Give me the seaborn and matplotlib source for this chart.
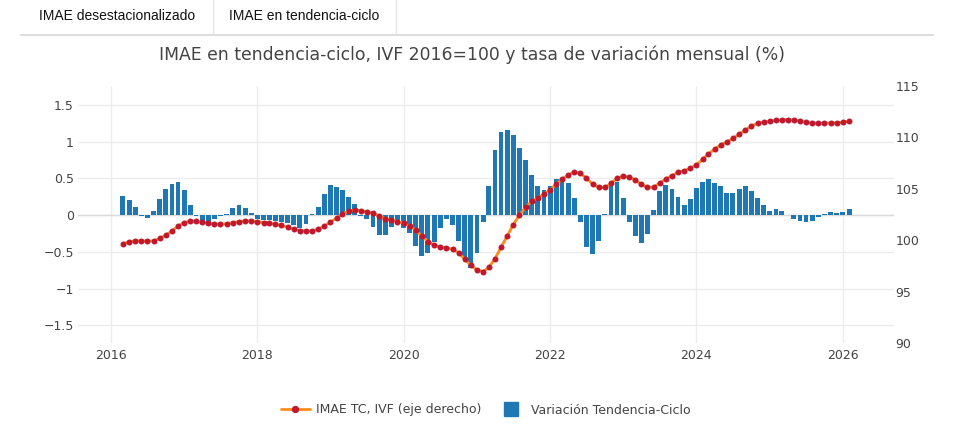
import numpy as np
import pandas as pd
import matplotlib
matplotlib.use("Agg")
import matplotlib.pyplot as plt
import matplotlib.dates as mdates
from matplotlib.lines import Line2D
import seaborn as sns
from datetime import datetime

# ---------------- data ----------------
start_month = "2016-03"
n_months = 120
months = pd.date_range(start_month, periods=n_months, freq="MS")

variacion_tc = [
    0.26, 0.21, 0.11, -0.01, -0.035, 0.06, 0.22, 0.35, 0.42, 0.45,          # 2016-03..2016-12
    0.34, 0.14, -0.02, -0.08, -0.09, -0.06, -0.02, 0.02, 0.09, 0.13, 0.10, 0.03,   # 2017
    -0.06, -0.065, -0.07, -0.085, -0.095, -0.11, -0.14, -0.18, -0.12, 0.02, 0.11, 0.29,  # 2018
    0.41, 0.38, 0.34, 0.24, 0.15, -0.01, -0.06, -0.16, -0.27, -0.27, -0.16, -0.09,     # 2019
    -0.17, -0.25, -0.42, -0.56, -0.52, -0.37, -0.17, -0.05, -0.14, -0.35, -0.59, -0.72,  # 2020
    -0.52, -0.10, 0.39, 0.89, 1.13, 1.15, 1.09, 0.91, 0.75, 0.55, 0.39, 0.34,        # 2021
    0.39, 0.49, 0.51, 0.44, 0.23, -0.10, -0.44, -0.53, -0.36, 0.02, 0.39, 0.45,       # 2022
    0.23, -0.10, -0.29, -0.38, -0.26, 0.07, 0.32, 0.41, 0.35, 0.24, 0.13, 0.22,       # 2023
    0.37, 0.45, 0.49, 0.44, 0.39, 0.30, 0.30, 0.36, 0.39, 0.32, 0.23, 0.13,           # 2024
    0.06, 0.08, 0.06, 0.0, -0.05, -0.08, -0.095, -0.08, -0.03, 0.02, 0.045, 0.03,     # 2025
    0.035, 0.08,                                                                      # 2026
]

imae_tc = [
    99.65, 99.85, 99.93, 99.93, 99.90, 99.93, 100.17, 100.49, 100.90, 101.38,
    101.72, 101.86, 101.83, 101.75, 101.65, 101.57, 101.54, 101.60, 101.71, 101.81, 101.87, 101.87,
    101.80, 101.72, 101.66, 101.55, 101.43, 101.27, 101.10, 100.94, 100.87, 100.90, 101.06, 101.38,
    101.76, 102.17, 102.55, 102.82, 102.92, 102.88, 102.76, 102.64, 102.34, 102.10, 101.99, 101.80,
    101.66, 101.40, 100.98, 100.39, 99.87, 99.52, 99.33, 99.26, 99.12, 98.77, 98.16, 97.55,
    97.10, 96.95, 97.37, 98.20, 99.31, 100.42, 101.52, 102.44, 103.22, 103.80, 104.10, 104.50,
    104.90, 105.45, 105.93, 106.35, 106.63, 106.50, 106.03, 105.45, 105.13, 105.13, 105.54, 106.03,
    106.25, 106.10, 105.87, 105.42, 105.13, 105.16, 105.55, 105.97, 106.29, 106.61, 106.77, 107.00,
    107.32, 107.87, 108.39, 108.87, 109.26, 109.58, 109.90, 110.31, 110.72, 111.10, 111.38, 111.49,
    111.59, 111.65, 111.72, 111.73, 111.68, 111.60, 111.48, 111.40, 111.36, 111.37, 111.39, 111.43,
    111.47, 111.60,
]

left_ticks = [-1.5, -1, -0.5, 0, 0.5, 1, 1.5]
left_tick_labels = ["\u22121.5", "\u22121", "\u22120.5", "0", "0.5", "1", "1.5"]
right_ticks = [90, 95, 100, 105, 110, 115]
year_ticks = [2016, 2018, 2020, 2022, 2024, 2026]

title = "IMAE en tendencia-ciclo, IVF 2016=100 y tasa de variación mensual (%)"
tab_labels = ["IMAE desestacionalizado", "IMAE en tendencia-ciclo"]
line_label = "IMAE TC, IVF (eje derecho)"
bar_label = "Variación Tendencia-Ciclo"

# ---------------- style ----------------
BLUE = "#1f77b4"
ORANGE = "#ff8c1a"
RED = "#c0182f"
TXT = "#444444"
GRID = "#ececec"
MS = 4.3

sns.set_theme(style="white")
plt.rcParams["font.family"] = ["DejaVu Sans"]

W, H = 958, 438
fig = plt.figure(figsize=(W / 100, H / 100), dpi=100)
L, R, T, B = 78, 894, 86, 343
ax = fig.add_axes([L / W, 1 - B / H, (R - L) / W, (B - T) / H])

df = pd.DataFrame({
    "x": mdates.date2num(months.to_pydatetime()),
    "variacion": variacion_tc,
    "imae": imae_tc,
})

sns.barplot(data=df, x="x", y="variacion", native_scale=True, color=BLUE,
            saturation=1, width=0.86, errorbar=None, linewidth=0, ax=ax, zorder=2)

ax2 = ax.twinx()
sns.lineplot(data=df, x="x", y="imae", ax=ax2, color=ORANGE, linewidth=2,
             marker="o", markersize=MS, markerfacecolor=RED, markeredgecolor=RED,
             markeredgewidth=0, legend=False, zorder=3)

# axes limits / ticks
x0 = mdates.date2num(datetime(2015, 7, 21))
x1 = mdates.date2num(datetime(2026, 9, 13))
ax.set_xlim(x0, x1)
ax.set_ylim(-1.741, 1.755)
ax2.set_ylim(90, 115)

ax.set_xticks([mdates.date2num(datetime(y, 1, 1)) for y in year_ticks],
              labels=[str(y) for y in year_ticks])
ax.set_yticks(left_ticks, labels=left_tick_labels)
ax2.set_yticks(right_ticks, labels=[str(v) for v in right_ticks])

for a in (ax, ax2):
    a.set_xlabel("")
    a.set_ylabel("")
    for s in a.spines.values():
        s.set_visible(False)

ax.tick_params(axis="both", length=0, labelsize=9, colors=TXT)
ax.tick_params(axis="y", pad=3)
ax.tick_params(axis="x", pad=4)
ax2.tick_params(axis="y", length=0, labelsize=9, colors=TXT, pad=1)

ax.grid(True, axis="both", color=GRID, linewidth=1)
ax.set_axisbelow(True)
ax2.grid(False)
ax.axhline(0, color="#dadada", linewidth=1, zorder=1)

# title
fig.text(472 / W, 1 - 55 / H, title, ha="center", va="center", fontsize=12.4, color=TXT)

# tabs
fig.add_artist(Line2D([21 / W, 933 / W], [1 - 35 / H, 1 - 35 / H], color="#dddddd",
                      linewidth=1.5, transform=fig.transFigure))
for xs in (213, 396):
    fig.add_artist(Line2D([xs / W, xs / W], [1 - 34 / H, 1.0], color="#e6e6e6",
                          linewidth=1, transform=fig.transFigure))
fig.text(39 / W, 1 - 16 / H, tab_labels[0], ha="left", va="center", fontsize=10,
         family="Liberation Sans", color="#111111")
fig.text(229 / W, 1 - 16 / H, tab_labels[1], ha="left", va="center", fontsize=10,
         family="Liberation Sans", color="#111111")

# legend
handles = [
    Line2D([0], [0], color=ORANGE, linewidth=2, marker="o", markersize=MS,
           markerfacecolor=RED, markeredgecolor=RED),
    Line2D([0], [0], linestyle="none", marker="s", markersize=9.5,
           markerfacecolor=BLUE, markeredgecolor=BLUE),
]
fig.legend(handles, [line_label, bar_label], loc="center", ncol=2,
           bbox_to_anchor=(486 / W, 1 - 410 / H), frameon=False, fontsize=9,
           labelcolor=TXT, handlelength=2.3, handletextpad=0.5, columnspacing=1.2)

fig.savefig("out.png", dpi=100)
